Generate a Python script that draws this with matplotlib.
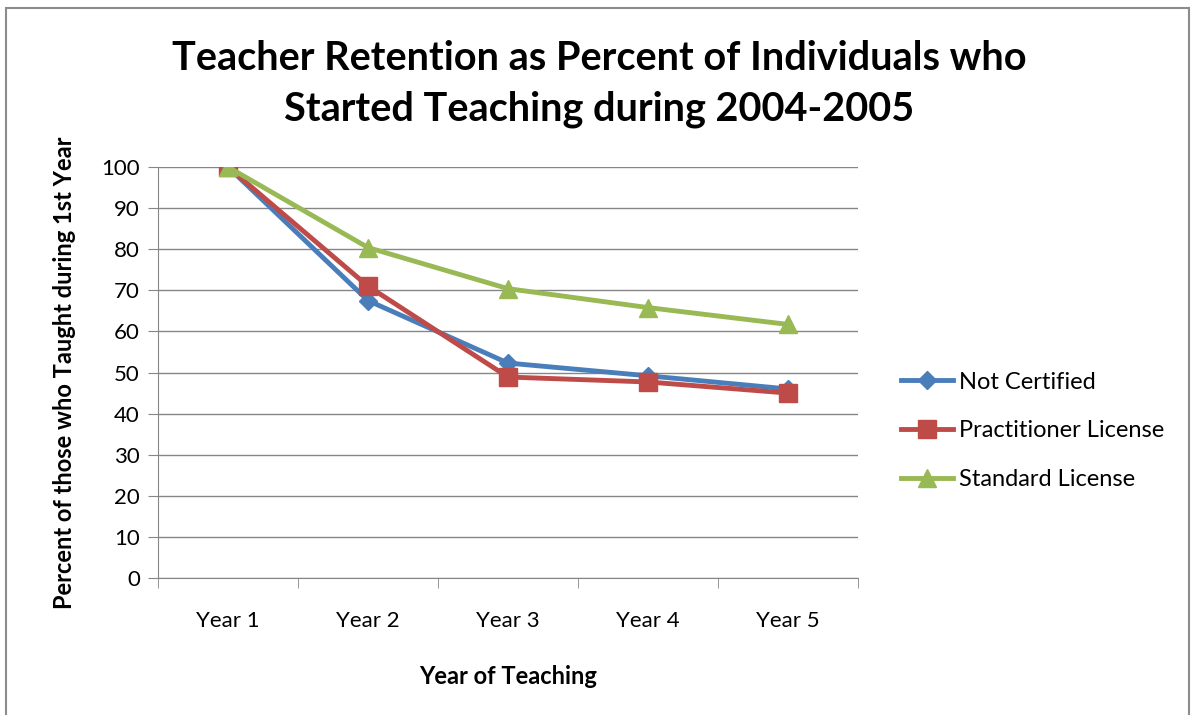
import matplotlib
matplotlib.use("Agg")
import matplotlib.pyplot as plt
from matplotlib.patches import Rectangle

plt.rcParams["font.family"] = ["Lato", "DejaVu Sans"]

years = ["Year 1", "Year 2", "Year 3", "Year 4", "Year 5"]
not_certified = [100, 67.5, 52.3, 49.2, 46.0]
practitioner = [100, 71.0, 48.9, 47.7, 45.0]
standard = [100, 80.4, 70.4, 65.8, 61.7]
y_ticks = list(range(0, 101, 10))

fig = plt.figure(figsize=(11.91, 7.15), dpi=100)
ax = fig.add_axes([0.1327, 0.1916, 0.5877, 0.5748])

# figure border like the Excel chart area
fig.patches.append(Rectangle((0.005, -0.01), 0.993, 0.999, transform=fig.transFigure,
                             fill=False, edgecolor="#8c8c8c", linewidth=1.5))

x = range(len(years))
ax.plot(x, not_certified, color="#4a7ebb", lw=3.5, marker="D", ms=9, label="Not Certified")
ax.plot(x, practitioner, color="#be4b48", lw=3.5, marker="s", ms=13, label="Practitioner License")
ax.plot(x, standard, color="#98b954", lw=3.5, marker="^", ms=13, label="Standard License")

ax.set_xlim(-0.5, 4.5)
ax.set_ylim(0, 100)
ax.set_yticks(y_ticks)
ax.set_xticks(x)
ax.set_xticklabels(years)
ax.tick_params(axis="both", labelsize=16, colors="#868686", labelcolor="black", length=7)
ax.tick_params(axis="y", pad=6)
ax.tick_params(axis="x", length=0, pad=24)
# category boundary ticks
ax.set_xticks([i - 0.5 for i in range(len(years) + 1)], minor=True)
ax.tick_params(axis="x", which="minor", length=7, colors="#868686")
ax.grid(axis="y", color="#868686", lw=1)
ax.set_axisbelow(True)
for s in ["top", "right"]:
    ax.spines[s].set_visible(False)
for s in ["left", "bottom"]:
    ax.spines[s].set_color("#868686")

ax.set_xlabel("Year of Teaching", fontsize=17, fontweight="bold", labelpad=24)
ax.set_ylabel("Percent of those who Taught during 1st Year", fontsize=17, fontweight="bold", labelpad=18)

fig.text(0.503, 0.882, "Teacher Retention as Percent of Individuals who\nStarted Teaching during 2004-2005",
         ha="center", va="center", fontsize=28.5, fontweight="bold", linespacing=1.45)

ax.legend(loc="center left", bbox_to_anchor=(1.031, 0.358), frameon=False, fontsize=17,
          handlelength=2.2, labelspacing=1.17, handletextpad=0.25)

fig.savefig("out.png", dpi=100)
